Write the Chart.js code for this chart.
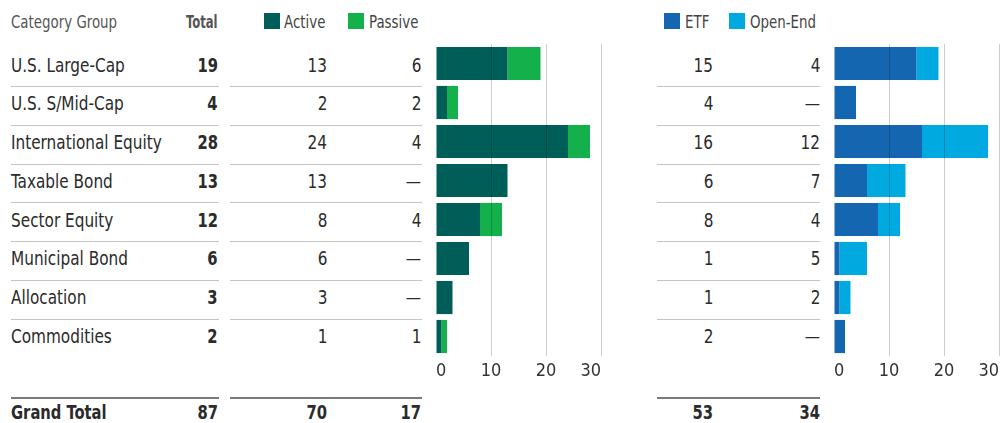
<!DOCTYPE html>
<html>
<head>
<meta charset="utf-8">
<script src="https://cdn.jsdelivr.net/npm/chart.js@4"></script>
<style>
  html, body { margin: 0; padding: 0; background: #fff; }
  body { width: 1001px; height: 423px; position: relative; overflow: hidden;
         font-family: "DejaVu Sans Condensed", "DejaVu Sans", sans-serif; color: #2b2b2b; }
  .t { position: absolute; height: 24px; line-height: 24px; white-space: nowrap; }
  .r { text-align: right; }
  .line { position: absolute; height: 1px; background: #c4c4c4; }
  .gline { position: absolute; height: 2px; background: #7a7a7a; }
  .sw { position: absolute; width: 16px; height: 16px; box-sizing: border-box; }
  canvas { position: absolute; }
</style>
</head>
<body>
<div id="root"></div>
<div style="position:absolute;left:431px;top:44px;width:175px;height:342px;"><canvas id="c1"></canvas></div>
<div style="position:absolute;left:829px;top:44px;width:175px;height:342px;"><canvas id="c2"></canvas></div>
<script>
const categories = ["U.S. Large-Cap", "U.S. S/Mid-Cap", "International Equity", "Taxable Bond", "Sector Equity", "Municipal Bond", "Allocation", "Commodities"];
const totals   = [19, 4, 28, 13, 12, 6, 3, 2];
const active   = [13, 2, 24, 13, 8, 6, 3, 1];
const passive  = [6, 2, 4, 0, 4, 0, 0, 1];
const etf      = [15, 4, 16, 6, 8, 1, 1, 2];
const openEnd  = [4, 0, 12, 7, 4, 5, 2, 0];
const axisTicks = [0, 10, 20, 30];
const grandLabel = "Grand Total";

const COLORS = { active: "#005e59", passive: "#13b04b", etf: "#1566b0", openEnd: "#00a9e0" };
const FONT = '"DejaVu Sans Condensed", "DejaVu Sans", sans-serif';

const sum = a => a.reduce((s, v) => s + v, 0);
const root = document.getElementById("root");
function txt(s, x, yc, opts = {}) {
  const d = document.createElement("div");
  d.className = "t" + (opts.right ? " r" : "");
  d.textContent = s;
  d.style.top = (yc - 12) + "px";
  d.style.fontSize = (opts.size || 20) + "px";
  if (opts.bold) d.style.fontWeight = "bold";
  if (opts.color) d.style.color = opts.color;
  const sx = opts.sx || (opts.bold ? 0.82 : 0.85);
  d.style.transform = "scaleX(" + sx + ")";
  if (opts.right) { d.style.right = (1001 - x) + "px"; d.style.transformOrigin = "right center"; }
  else { d.style.left = x + "px"; d.style.transformOrigin = "left center"; }
  root.appendChild(d);
}
function hline(x1, x2, y, cls) {
  const d = document.createElement("div");
  d.className = cls || "line";
  d.style.left = x1 + "px"; d.style.width = (x2 - x1) + "px"; d.style.top = y + "px";
  root.appendChild(d);
}
function swatch(x, y, color) {
  const d = document.createElement("div");
  d.className = "sw";
  d.style.left = x + "px"; d.style.top = y + "px"; d.style.background = color;
  root.appendChild(d);
}
const fmt = v => v === 0 ? "—" : String(v);

// header
txt("Category Group", 11, 22, { size: 17.5, color: "#555" });
txt("Total", 218, 22, { size: 17, bold: true, color: "#555", right: true, sx: 0.76 });
swatch(264, 13, COLORS.active); txt("Active", 284, 22, { size: 17.5, color: "#444" });
swatch(348, 13, COLORS.passive); txt("Passive", 369, 22, { size: 17.5, color: "#444" });
swatch(664, 13, COLORS.etf); txt("ETF", 685, 22, { size: 17.5, color: "#444" });
swatch(729, 13, COLORS.openEnd); txt("Open-End", 750, 22, { size: 17.5, color: "#444" });

// rows
categories.forEach((c, i) => {
  const yc = 64.5 + 38.75 * i;
  txt(c, 11, yc);
  txt(String(totals[i]), 218, yc, { bold: true, right: true });
  txt(fmt(active[i]), 327, yc, { right: true });
  txt(fmt(passive[i]), 421, yc, { right: true });
  txt(fmt(etf[i]), 713, yc, { right: true });
  txt(fmt(openEnd[i]), 820, yc, { right: true });
  if (i < categories.length - 1) {
    const ys = Math.round(86 + 38.75 * i);
    hline(11, 219, ys); hline(230, 422, ys); hline(657, 820, ys);
  }
});

// grand total
hline(11, 219, 397, "gline"); hline(230, 422, 397, "gline"); hline(657, 820, 397, "gline");
txt(grandLabel, 11, 412, { bold: true });
txt(String(sum(totals)), 218, 412, { bold: true, right: true });
txt(String(sum(active)), 327, 412, { bold: true, right: true });
txt(String(sum(passive)), 421, 412, { bold: true, right: true });
txt(String(sum(etf)), 713, 412, { bold: true, right: true });
txt(String(sum(openEnd)), 820, 412, { bold: true, right: true });

function makeChart(id, s1, s2, l1, l2, c1, c2) {
  return new Chart(document.getElementById(id), {
    type: "bar",
    data: {
      labels: categories,
      datasets: [
        { label: l1, data: s1, backgroundColor: c1, borderWidth: 0, categoryPercentage: 0.85, barPercentage: 1 },
        { label: l2, data: s2, backgroundColor: c2, borderWidth: 0, categoryPercentage: 0.85, barPercentage: 1 }
      ]
    },
    options: {
      indexAxis: "y",
      responsive: true,
      maintainAspectRatio: false,
      animation: false,
      layout: { padding: 0 },
      plugins: { legend: { display: false }, tooltip: { enabled: false } },
      scales: {
        y: { stacked: true, display: false },
        x: {
          stacked: true, min: axisTicks[0], max: axisTicks[axisTicks.length - 1],
          afterBuildTicks: s => { s.ticks = axisTicks.map(v => ({ value: v })); },
          afterFit: s => { s.height = 30; },
          border: { display: false },
          grid: { z: 1, drawTicks: false, lineWidth: 1,
                  color: ctx => (ctx.tick && ctx.tick.value === 0) ? "rgba(0,0,0,0)" : "rgba(0,0,0,0.2)" },
          ticks: { align: "inner", padding: 5, color: "#333", font: { family: FONT, size: 18 } }
        }
      }
    }
  });
}
makeChart("c1", active, passive, "Active", "Passive", COLORS.active, COLORS.passive);
makeChart("c2", etf, openEnd, "ETF", "Open-End", COLORS.etf, COLORS.openEnd);
</script>
</body>
</html>
